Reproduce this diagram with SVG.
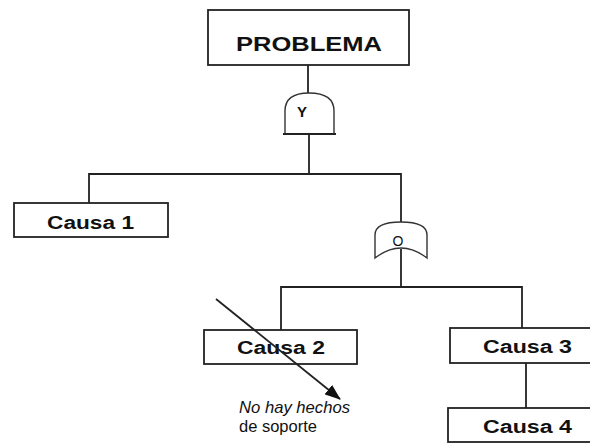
<svg xmlns="http://www.w3.org/2000/svg" width="590" height="445" viewBox="0 0 590 445">
  <defs>
    <style>
      .box { fill: #ffffff; stroke: #222222; stroke-width: 1.8; }
      .wire { fill: none; stroke: #222222; stroke-width: 1.8; }
      .gate { fill: #ffffff; stroke: #333333; stroke-width: 1.4; }
      .lbl { font-family: "Liberation Sans", Arial, sans-serif; font-weight: bold; fill: #111111; }
      .note { font-family: "Liberation Sans", Arial, sans-serif; font-size: 17px; fill: #111111; }
    </style>
    <marker id="headBig" viewBox="0 0 16 12" refX="15" refY="6" markerWidth="16" markerHeight="12" markerUnits="userSpaceOnUse" orient="auto">
      <path d="M0,0 L16,6 L0,12 Z" fill="#111111"/>
    </marker>
  </defs>
  <rect width="590" height="445" fill="#ffffff"/>

  <!-- connectors -->
  <g id="connectors">
    <path class="wire" d="M308,65 V93"/>
    <path class="wire" d="M309,135 V174"/>
    <path class="wire" d="M89,203 V174 H401 V222"/>
    <path class="wire" d="M401,249 V287"/>
    <path class="wire" d="M281,330 V287 H522 V328"/>
    <path class="wire" d="M526,363 V408"/>
  </g>

  <!-- top event -->
  <g id="problema">
    <rect class="box" x="208" y="10" width="201" height="55"/>
    <text class="lbl" x="236" y="51" font-size="20" textLength="146" lengthAdjust="spacingAndGlyphs">PROBLEMA</text>
  </g>

  <!-- AND gate -->
  <g id="gate-y">
    <path class="gate" d="M285,134 V111 Q285,93 309,93 Q334,93 334,111 V134"/>
    <path class="wire" d="M283,134 H336" stroke-width="2.6"/>
    <text class="lbl" x="302" y="117" font-size="15" text-anchor="middle">Y</text>
  </g>

  <!-- OR gate -->
  <g id="gate-o">
    <path class="gate" d="M375,258 V235 Q375,222 401,222 Q427,222 427,235 V258 Q401,238 375,258 Z"/>
    <text x="398" y="246" font-family="'Liberation Sans', Arial, sans-serif" font-size="14" text-anchor="middle" fill="#111111">O</text>
  </g>

  <g id="causa1">
    <rect class="box" x="14" y="203" width="154" height="34"/>
    <text class="lbl" x="47" y="229" font-size="18" textLength="87" lengthAdjust="spacingAndGlyphs">Causa 1</text>
  </g>

  <g id="causa2">
    <rect class="box" x="204" y="330" width="153" height="34"/>
    <text class="lbl" x="237" y="354" font-size="18" textLength="88" lengthAdjust="spacingAndGlyphs">Causa 2</text>
  </g>

  <g id="causa3">
    <rect class="box" x="450" y="328" width="155" height="35"/>
    <text class="lbl" x="483" y="353" font-size="18" textLength="89" lengthAdjust="spacingAndGlyphs">Causa 3</text>
  </g>

  <g id="causa4">
    <rect class="box" x="448" y="408" width="157" height="34"/>
    <text class="lbl" x="483" y="433" font-size="18" textLength="89" lengthAdjust="spacingAndGlyphs">Causa 4</text>
  </g>

  <!-- annotation arrow and note -->
  <g id="nota">
    <path class="wire" d="M216,299 L340,399" marker-end="url(#headBig)"/>
    <text class="note" x="239" y="413" font-style="italic" textLength="111" lengthAdjust="spacingAndGlyphs">No hay hechos</text>
    <text class="note" x="239" y="432" textLength="78" lengthAdjust="spacingAndGlyphs">de soporte</text>
  </g>
</svg>
